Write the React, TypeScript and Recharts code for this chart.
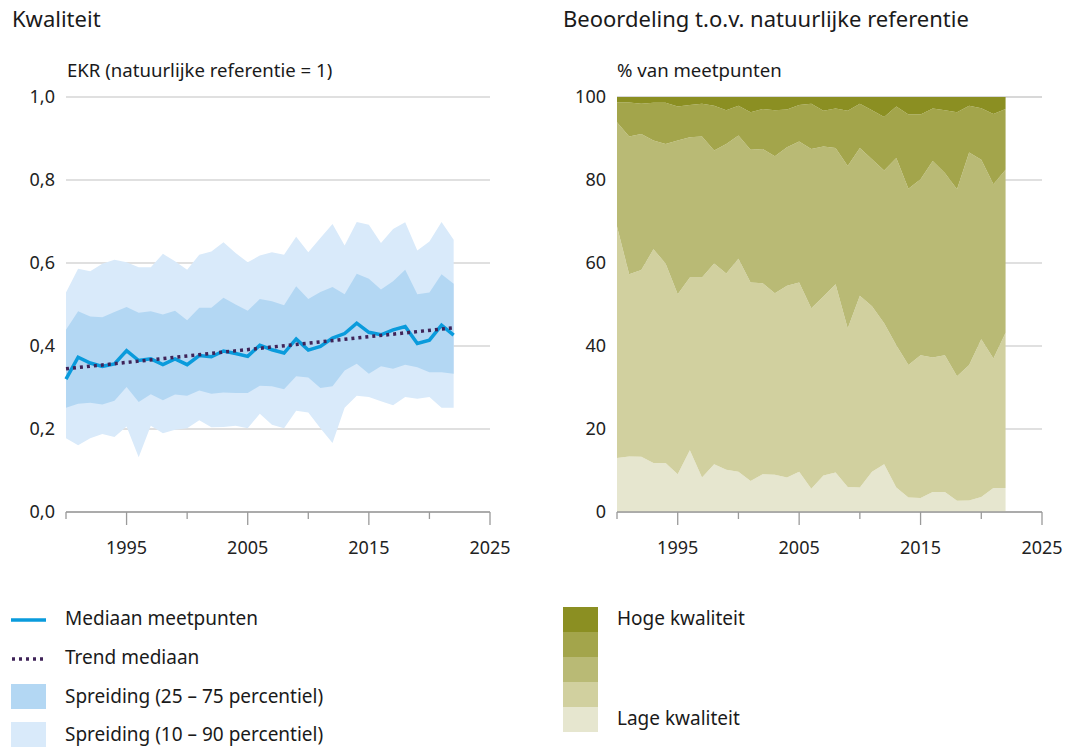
import React from 'react';
import { ComposedChart, AreaChart, Area, Line, XAxis, YAxis, CartesianGrid } from 'recharts';

const FONT = '"Noto Sans", "Open Sans", sans-serif';

// years 1990 - 2022
const years = [
  1990, 1991, 1992, 1993, 1994, 1995, 1996, 1997, 1998, 1999, 2000, 2001, 2002, 2003, 2004, 2005, 2006,
  2007, 2008, 2009, 2010, 2011, 2012, 2013, 2014, 2015, 2016, 2017, 2018, 2019, 2020, 2021, 2022,
];

// EKR, left panel
const median = [
  0.32, 0.373, 0.359, 0.351, 0.357, 0.389, 0.365, 0.369, 0.355, 0.369, 0.355, 0.377, 0.374, 0.388, 0.382,
  0.375, 0.402, 0.391, 0.383, 0.417, 0.39, 0.399, 0.419, 0.43, 0.455, 0.433, 0.427, 0.439, 0.447, 0.406,
  0.414, 0.45, 0.426,
];
const p10 = [
  0.178, 0.161, 0.178, 0.188, 0.181, 0.206, 0.132, 0.208, 0.19, 0.198, 0.202, 0.221, 0.204, 0.205, 0.208,
  0.202, 0.237, 0.21, 0.202, 0.244, 0.24, 0.202, 0.166, 0.251, 0.28, 0.277, 0.267, 0.257, 0.277, 0.273,
  0.277, 0.251, 0.251,
];
const p25 = [
  0.251, 0.261, 0.263, 0.259, 0.268, 0.301, 0.265, 0.284, 0.269, 0.283, 0.28, 0.293, 0.285, 0.288, 0.287,
  0.287, 0.304, 0.303, 0.296, 0.327, 0.324, 0.299, 0.303, 0.341, 0.357, 0.333, 0.351, 0.345, 0.355, 0.349,
  0.337, 0.337, 0.333,
];
const p75 = [
  0.439, 0.484, 0.471, 0.469, 0.482, 0.494, 0.48, 0.484, 0.476, 0.485, 0.462, 0.492, 0.492, 0.516, 0.5,
  0.485, 0.513, 0.508, 0.498, 0.544, 0.513, 0.53, 0.542, 0.525, 0.574, 0.562, 0.536, 0.556, 0.584, 0.525,
  0.529, 0.573, 0.55,
];
const p90 = [
  0.529, 0.586, 0.58, 0.598, 0.608, 0.602, 0.59, 0.59, 0.622, 0.604, 0.584, 0.62, 0.628, 0.65, 0.624,
  0.602, 0.618, 0.626, 0.62, 0.663, 0.626, 0.66, 0.694, 0.642, 0.699, 0.692, 0.648, 0.682, 0.698, 0.63,
  0.652, 0.699, 0.656,
];
// trend of the median, start and end value
const trendStart = 0.345;
const trendEnd = 0.444;

// % of measuring points per quality class, right panel (low -> high)
const lage = [
  13.0, 13.4, 13.3, 11.8, 11.8, 9.1, 14.9, 8.3, 11.5, 10.2, 9.7, 7.5, 9.1, 9.0, 8.3, 9.7, 5.6, 8.8, 9.5,
  6.0, 5.9, 9.7, 11.5, 5.9, 3.5, 3.4, 4.8, 4.8, 2.7, 2.8, 3.6, 5.8, 5.8,
];
const klasse2 = [
  55.8, 43.9, 45.0, 51.5, 48.1, 43.4, 41.6, 48.2, 48.4, 47.3, 51.3, 47.8, 46.0, 43.7, 46.2, 45.6, 43.5,
  43.1, 45.4, 38.2, 46.2, 39.9, 34.0, 34.3, 31.9, 34.4, 32.4, 33.0, 30.0, 32.6, 38.0, 31.2, 37.4,
];
const klasse3 = [
  25.1, 33.2, 32.8, 26.2, 28.8, 37.0, 33.8, 34.0, 27.2, 31.2, 29.7, 32.0, 32.4, 33.0, 33.4, 34.0, 38.4,
  36.2, 32.8, 39.2, 35.6, 35.4, 36.8, 45.1, 42.5, 42.4, 47.4, 43.9, 45.1, 51.2, 43.3, 42.0, 39.3,
];
const klasse4 = [
  4.8, 8.2, 7.3, 9.1, 9.9, 8.2, 7.8, 7.9, 10.8, 8.1, 7.2, 9.0, 9.6, 11.1, 9.1, 8.8, 10.9, 8.6, 9.5, 13.3,
  10.7, 11.8, 12.9, 12.4, 17.9, 15.6, 12.6, 15.1, 18.5, 11.3, 12.4, 16.9, 14.6,
];
const hoge = [
  1.3, 1.3, 1.6, 1.4, 1.4, 2.3, 1.9, 1.6, 2.1, 3.2, 2.1, 3.7, 2.9, 3.2, 3.0, 1.9, 1.6, 3.3, 2.8, 3.3, 1.6,
  3.2, 4.8, 2.3, 4.2, 4.2, 2.8, 3.2, 3.7, 2.1, 2.7, 4.1, 2.9,
];

const xTicks = [1990, 1995, 2000, 2005, 2010, 2015, 2020, 2025];
const xLabels = [1995, 2005, 2015, 2025];
const ekrTicks = [0, 0.2, 0.4, 0.6, 0.8, 1.0];
const pctTicks = [0, 20, 40, 60, 80, 100];

const GREENS = ['#e6e6cf', '#d1d09f', '#b9ba75', '#a3a54b', '#8b8f22'];

const ekrData = years.map((year, i) => ({
  year,
  band90: [p10[i], p90[i]],
  band75: [p25[i], p75[i]],
  median: median[i],
  trend: i === 0 ? trendStart : i === years.length - 1 ? trendEnd : null,
}));

const pctData = years.map((year, i) => ({
  year,
  k1: lage[i],
  k2: klasse2[i],
  k3: klasse3[i],
  k4: klasse4[i],
  k5: hoge[i],
}));

const YearTick = (props: any) => {
  const { x, y, payload } = props;
  const major = xLabels.includes(payload.value);
  return (
    <g>
      <line x1={x} y1={y} x2={x} y2={y + (major ? 13 : 7)} stroke="#9a9a9a" strokeWidth={1.3} />
      {major && (
        <text x={x} y={y + 42} textAnchor="middle" fill="#222" fontSize={18} fontFamily={FONT}>
          {payload.value}
        </text>
      )}
    </g>
  );
};

const ValueTick = (props: any) => {
  const { x, y, payload, fmt } = props;
  return (
    <text x={x} y={y + 6} textAnchor="end" fill="#222" fontSize={18} fontFamily={FONT}>
      {fmt(payload.value)}
    </text>
  );
};

const textStyle: React.CSSProperties = {
  position: 'absolute',
  fontFamily: FONT,
  color: '#1a1a1a',
  whiteSpace: 'nowrap',
  lineHeight: 1,
};

function Swatch({ children }: { children: React.ReactNode }) {
  return (
    <svg width={36} height={26} style={{ position: 'absolute', left: 0, top: 0 }}>
      {children}
    </svg>
  );
}

export default function App() {
  const margin = { top: 97, right: 40, left: 0, bottom: 0 };
  return (
    <div style={{ position: 'absolute', left: 0, top: 0, width: 1077, height: 747, background: '#fff' }}>
      <div style={{ ...textStyle, left: 12, top: 7, fontSize: 22 }}>Kwaliteit</div>
      <div style={{ ...textStyle, left: 67, top: 61, fontSize: 18.6 }}>EKR (natuurlijke referentie = 1)</div>
      <div style={{ ...textStyle, left: 563, top: 7, fontSize: 22 }}>Beoordeling t.o.v. natuurlijke referentie</div>
      <div style={{ ...textStyle, left: 617, top: 61, fontSize: 18.6 }}>% van meetpunten</div>

      <div style={{ position: 'absolute', left: 0, top: 0 }}>
        <ComposedChart width={530} height={560} data={ekrData} margin={margin}>
          <CartesianGrid vertical={false} stroke="#d6d6d6" strokeWidth={1.5} />
          <XAxis
            dataKey="year"
            type="number"
            domain={[1990, 2025]}
            ticks={xTicks}
            height={48}
            tickSize={0}
            tickMargin={0}
            tickLine={false}
            axisLine={{ stroke: '#9a9a9a', strokeWidth: 1.3 }}
            tick={<YearTick />}
            interval={0}
          />
          <YAxis
            type="number"
            domain={[0, 1]}
            ticks={ekrTicks}
            width={66}
            axisLine={false}
            tickLine={false}
            tickSize={0}
            tickMargin={11}
            interval={0}
            tick={<ValueTick fmt={(v: number) => v.toFixed(1).replace('.', ',')} />}
          />
          <Area dataKey="band90" type="linear" stroke="none" fill="#d9eafa" fillOpacity={1} isAnimationActive={false} />
          <Area dataKey="band75" type="linear" stroke="none" fill="#b3d7f3" fillOpacity={1} isAnimationActive={false} />
          <Line dataKey="median" type="linear" stroke="#0a9bdc" strokeWidth={3.5} dot={false} isAnimationActive={false} />
          <Line
            dataKey="trend"
            type="linear"
            stroke="#3f2358"
            strokeWidth={3.5}
            strokeDasharray="3 4"
            dot={false}
            connectNulls
            isAnimationActive={false}
          />
        </ComposedChart>
      </div>

      <div style={{ position: 'absolute', left: 551, top: 0 }}>
        <AreaChart width={531} height={560} data={pctData} margin={margin}>
          <CartesianGrid vertical={false} stroke="#d6d6d6" strokeWidth={1.5} />
          <XAxis
            dataKey="year"
            type="number"
            domain={[1990, 2025]}
            ticks={xTicks}
            height={48}
            tickSize={0}
            tickMargin={0}
            tickLine={false}
            axisLine={{ stroke: '#9a9a9a', strokeWidth: 1.3 }}
            tick={<YearTick />}
            interval={0}
          />
          <YAxis
            type="number"
            domain={[0, 100]}
            ticks={pctTicks}
            width={66}
            axisLine={false}
            tickLine={false}
            tickSize={0}
            tickMargin={11}
            interval={0}
            tick={<ValueTick fmt={(v: number) => String(v)} />}
          />
          {['k1', 'k2', 'k3', 'k4', 'k5'].map((k, i) => (
            <Area
              key={k}
              dataKey={k}
              stackId="q"
              type="linear"
              stroke="none"
              fill={GREENS[i]}
              fillOpacity={1}
              isAnimationActive={false}
            />
          ))}
        </AreaChart>
      </div>

      {/* legend left */}
      <div style={{ position: 'absolute', left: 11, top: 607 }}>
        <Swatch>
          <line x1={0} y1={13} x2={35} y2={13} stroke="#0a9bdc" strokeWidth={3.5} />
        </Swatch>
        <div style={{ ...textStyle, left: 54, top: 2, fontSize: 19 }}>Mediaan meetpunten</div>
      </div>
      <div style={{ position: 'absolute', left: 11, top: 646 }}>
        <Swatch>
          <line x1={1} y1={13} x2={35} y2={13} stroke="#3f2358" strokeWidth={3.5} strokeDasharray="3 4" />
        </Swatch>
        <div style={{ ...textStyle, left: 54, top: 2, fontSize: 19 }}>Trend mediaan</div>
      </div>
      <div style={{ position: 'absolute', left: 11, top: 684 }}>
        <Swatch>
          <rect x={0} y={0} width={35} height={25} fill="#b3d7f3" />
        </Swatch>
        <div style={{ ...textStyle, left: 54, top: 3, fontSize: 19 }}>Spreiding (25 – 75 percentiel)</div>
      </div>
      <div style={{ position: 'absolute', left: 11, top: 722 }}>
        <Swatch>
          <rect x={0} y={0} width={35} height={25} fill="#d9eafa" />
        </Swatch>
        <div style={{ ...textStyle, left: 54, top: 3, fontSize: 19 }}>Spreiding (10 – 90 percentiel)</div>
      </div>

      {/* legend right */}
      <svg width={36} height={127} style={{ position: 'absolute', left: 563, top: 607 }}>
        {GREENS.slice()
          .reverse()
          .map((c, i) => (
            <rect key={c} x={0} y={i * 25} width={35} height={25} fill={c} />
          ))}
      </svg>
      <div style={{ ...textStyle, left: 617, top: 609, fontSize: 19 }}>Hoge kwaliteit</div>
      <div style={{ ...textStyle, left: 617, top: 709, fontSize: 19 }}>Lage kwaliteit</div>
    </div>
  );
}
